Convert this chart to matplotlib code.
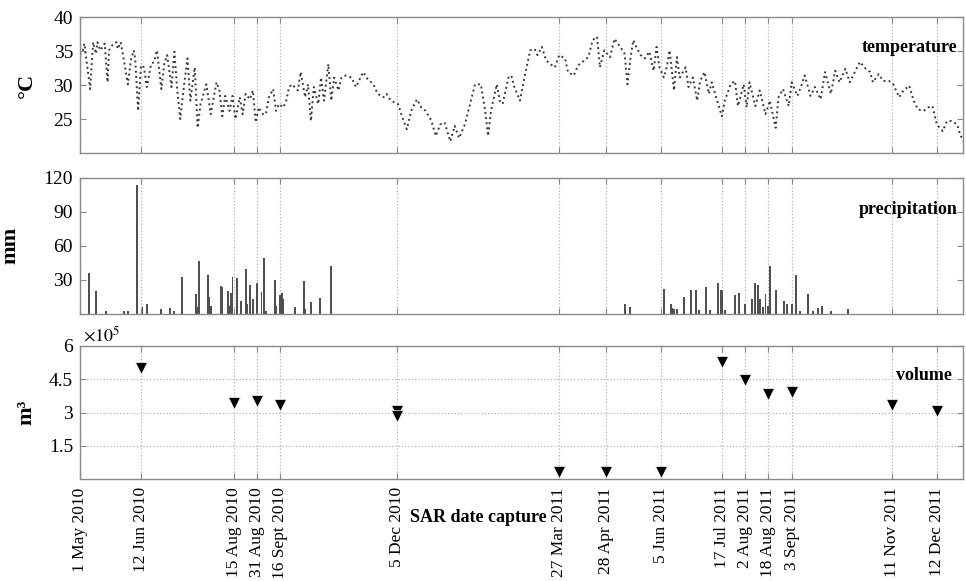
import numpy as np
import matplotlib
matplotlib.use('Agg')
import matplotlib.pyplot as plt
import matplotlib.dates as mdates
from matplotlib.ticker import FuncFormatter

plt.rcParams['font.family'] = ['Liberation Serif', 'DejaVu Serif']
plt.rcParams['mathtext.fontset'] = 'stix'

START = '2010-05-01'
END = '2011-12-30'

sar_ticks = ['2010-05-01', '2010-06-12', '2010-08-15', '2010-08-31', '2010-09-16',
             '2010-12-05', '2011-03-27', '2011-04-28', '2011-06-05', '2011-07-17',
             '2011-08-02', '2011-08-18', '2011-09-03', '2011-11-11', '2011-12-12']
sar_labels = ['1 May 2010', '12 Jun 2010', '15 Aug 2010', '31 Aug 2010', '16 Sept 2010',
              '5 Dec 2010', '27 Mar 2011', '28 Apr 2011', '5 Jun 2011', '17 Jul 2011',
              '2 Aug 2011', '18 Aug 2011', '3 Sept 2011', '11 Nov 2011', '12 Dec 2011']

# temperature: days after 1 May 2010, value in deg C
temp_days = [0, 2, 3, 7, 9, 11, 12, 14, 17, 19, 20, 22, 25, 26, 28, 30, 33, 35, 37, 38,
             40, 42, 44, 46, 49, 51, 53, 56, 58, 60, 63, 65, 67, 69, 72, 74, 76, 79, 81, 83,
             87, 90, 94, 96, 98, 100, 103, 105, 107, 110, 112, 114, 117, 119, 121, 123, 126, 128, 130, 133,
             135, 137, 140, 142, 144, 146, 150, 152, 155, 157, 159, 161, 164, 166, 168, 171,
             173, 175, 178, 180, 183, 187, 190, 195, 198, 202, 205, 209, 211, 214, 219, 222, 225, 228,
             232, 235, 238, 242, 245, 248, 251, 255, 258, 261, 265, 268, 272, 276, 279, 281, 283, 287,
             289, 291, 295, 297, 299, 303, 306, 310, 313, 315, 318, 321, 325, 327, 330, 334, 336, 340,
             343, 346, 350, 353, 356, 358, 361, 365, 368, 372, 375, 377, 379, 381, 383, 386, 389, 392,
             395, 397, 399, 402, 404, 406, 409, 411, 413, 417, 419, 422, 425, 427, 430, 433, 435, 438,
             442, 444, 448, 451, 453, 457, 459, 461, 465, 468, 472, 475, 479, 481, 484, 488, 490, 494,
             497, 499, 503, 506, 510, 513, 517, 520, 523, 527, 530, 534, 537, 541, 544, 546, 550, 553,
             557, 560, 564, 567, 571, 574, 577, 581, 584, 587, 590, 594, 597, 600, 604, 606, 609]
temp_c = [34.4, 35.1, 36.1, 29.4, 36.3, 34.6, 36.3, 35.1, 36.1, 30.4, 35.1, 35.8, 36.3, 35.3, 36.3, 33.9, 30.1, 33.6, 35.1, 33.9,
          26.2, 32.9, 32.6, 29.7, 33.1, 33.4, 35.1, 29.4, 33.1, 34.4, 29.7, 34.9, 29.2, 25.0, 30.6, 33.9, 27.7, 32.6, 23.7, 27.2,
          30.1, 25.7, 30.4, 29.2, 25.4, 28.4, 26.2, 28.4, 25.0, 28.2, 25.7, 28.7, 27.9, 29.2, 24.5, 26.7, 25.7, 25.7, 28.2, 29.4,
          26.2, 27.2, 26.7, 27.7, 29.7, 30.1, 29.2, 31.9, 28.2, 30.1, 24.7, 29.7, 27.2, 31.1, 27.7, 33.1,
          27.7, 31.1, 29.2, 31.1, 31.4, 31.1, 29.7, 31.9, 30.9, 30.1, 28.7, 28.2, 28.7, 27.7, 27.2, 25.2, 23.5, 26.2,
          27.9, 26.7, 26.2, 24.7, 22.5, 24.2, 24.5, 21.7, 24.0, 22.2, 24.2, 26.7, 30.1, 30.1, 26.2, 22.5, 26.2, 30.1,
          27.7, 27.2, 31.1, 31.4, 29.7, 27.7, 31.1, 35.1, 35.3, 34.4, 35.6, 33.6, 32.9, 32.6, 34.4, 33.9, 31.9, 31.4,
          32.9, 33.4, 34.1, 36.6, 37.1, 32.6, 35.1, 34.1, 36.8, 35.6, 34.6, 30.1, 33.9, 36.6, 35.6, 34.4, 33.9, 34.9,
          32.1, 35.6, 32.6, 31.1, 32.6, 35.1, 29.2, 34.1, 31.1, 32.6, 29.7, 31.1, 27.7, 30.6, 31.9, 28.7, 30.4, 28.2,
          25.4, 27.7, 30.1, 30.6, 26.9, 30.1, 26.7, 30.4, 26.9, 29.2, 25.7, 27.7, 23.7, 28.2, 29.4, 26.9, 30.4, 28.4,
          30.1, 31.4, 28.4, 29.7, 27.9, 31.9, 28.7, 32.1, 30.4, 32.4, 30.4, 32.1, 33.4, 32.4, 31.9, 30.4, 31.6, 30.6,
          30.6, 30.1, 28.2, 29.2, 29.9, 27.7, 26.4, 26.2, 26.7, 26.9, 24.2, 23.2, 24.7, 24.7, 24.2, 22.7, 21.5]

precip_dates = ['2010-05-01', '2010-05-07', '2010-05-12', '2010-05-19', '2010-05-31', '2010-06-03',
                '2010-06-09', '2010-06-13', '2010-06-16', '2010-06-26', '2010-07-02', '2010-07-05',
                '2010-07-10', '2010-07-20', '2010-07-21', '2010-07-22', '2010-07-28', '2010-07-29',
                '2010-07-30', '2010-08-06', '2010-08-07', '2010-08-11', '2010-08-12', '2010-08-13',
                '2010-08-14', '2010-08-17', '2010-08-20', '2010-08-23', '2010-08-24', '2010-08-26',
                '2010-08-28', '2010-08-31', '2010-09-03', '2010-09-05', '2010-09-06', '2010-09-12',
                '2010-09-13', '2010-09-16', '2010-09-17', '2010-09-18', '2010-09-26', '2010-10-02',
                '2010-10-03', '2010-10-07', '2010-10-13', '2010-10-21',
                '2011-05-11', '2011-05-15', '2011-06-07', '2011-06-12', '2011-06-13', '2011-06-14',
                '2011-06-16', '2011-06-21', '2011-06-26', '2011-06-29', '2011-07-01', '2011-07-06',
                '2011-07-09', '2011-07-14', '2011-07-16', '2011-07-17', '2011-07-19', '2011-07-26',
                '2011-07-29', '2011-08-02', '2011-08-07', '2011-08-09', '2011-08-11', '2011-08-12',
                '2011-08-14', '2011-08-16', '2011-08-18', '2011-08-19', '2011-08-23', '2011-08-29',
                '2011-08-31', '2011-09-03', '2011-09-06', '2011-09-09', '2011-09-14', '2011-09-18',
                '2011-09-21', '2011-09-24', '2011-09-30', '2011-10-12']
precip_mm = [5, 36, 20, 2, 2, 2,
             113, 6, 8, 4, 5, 2,
             32, 17, 6, 46, 34, 15,
             7, 24, 23, 20, 7, 18,
             32, 31, 11, 39, 8, 25,
             13, 27, 19, 49, 2, 30,
             7, 16, 18, 13, 6, 29,
             4, 10, 14, 42,
             8, 6, 22, 8, 5, 4,
             4, 15, 21, 21, 3, 23,
             3, 27, 21, 21, 3, 16,
             18, 8, 13, 27, 25, 13,
             6, 17, 7, 42, 21, 11,
             8, 8, 34, 2, 17, 2,
             5, 7, 2, 4]

vol_dates = ['2010-06-12', '2010-08-15', '2010-08-31', '2010-09-16', '2010-12-05', '2010-12-05',
             '2011-03-27', '2011-04-28', '2011-06-05', '2011-07-17', '2011-08-02', '2011-08-18',
             '2011-09-03', '2011-11-11', '2011-12-12']
vol_m3 = [5.01e5, 3.42e5, 3.51e5, 3.35e5, 3.07e5, 2.84e5,
          0.33e5, 0.33e5, 0.33e5, 5.28e5, 4.47e5, 3.84e5,
          3.94e5, 3.35e5, 3.05e5]


def dnum(lst):
    return mdates.date2num(np.array(lst, dtype='datetime64[D]'))


x0 = dnum([START])[0]
x1 = dnum([END])[0]
tick_x = dnum(sar_ticks)
temp_x = x0 + np.array(temp_days, dtype=float)
precip_x = dnum(precip_dates)
vol_x = dnum(vol_dates)

fig = plt.figure(figsize=(9.66, 5.81), dpi=100)
W, H = 966.0, 581.0
L, R = 80.0, 963.0


def make_ax(top, bottom):
    return fig.add_axes([L / W, 1 - bottom / H, (R - L) / W, (bottom - top) / H])


ax_t = make_ax(17, 153)
ax_p = make_ax(177.5, 313.5)
ax_v = make_ax(346, 479)

spine_col = '#8a8a8a'
grid_col = '#b5b5b5'
for ax in (ax_t, ax_p, ax_v):
    ax.set_xlim(x0, x1)
    ax.set_xticks(tick_x)
    ax.set_xticklabels(sar_labels)
    for s in ax.spines.values():
        s.set_color(spine_col)
        s.set_linewidth(1.0)
    ax.tick_params(direction='in', top=True, right=True, length=4, width=0.8,
                   color=spine_col, labelsize=14, pad=5)
    ax.grid(axis='x', linestyle=':', color=grid_col, linewidth=0.9)
    ax.set_axisbelow(True)

ax_t.tick_params(labelbottom=False)
ax_p.tick_params(labelbottom=False)
ax_v.tick_params(axis='x', labelsize=12.5, labelrotation=90, pad=6)

# temperature
ax_t.plot(temp_x, temp_c, linestyle=':', color='#3a3a3a', linewidth=1.4)
ax_t.set_ylim(20, 40)
ax_t.set_yticks([25, 30, 35, 40])
ax_t.set_ylabel('°C', fontsize=16, fontweight='bold')
ax_t.yaxis.set_label_coords(-0.049, 0.5)
ax_t.text(0.994, 0.774, 'temperature', transform=ax_t.transAxes, ha='right', va='center',
          fontsize=13, fontweight='bold')

# precipitation
ax_p.bar(precip_x, precip_mm, width=1.3, color='#505050', edgecolor='none')
ax_p.set_ylim(0, 120)
ax_p.set_yticks([30, 60, 90, 120])
ax_p.set_ylabel('mm', fontsize=16, fontweight='bold')
ax_p.yaxis.set_label_coords(-0.068, 0.5)
ax_p.text(0.994, 0.768, 'precipitation', transform=ax_p.transAxes, ha='right', va='center',
          fontsize=13, fontweight='bold')

# volume
ax_v.plot(vol_x, vol_m3, linestyle='none', marker='v', markersize=8.5, color='black',
          markeredgecolor='white', markeredgewidth=0.5)
ax_v.set_ylim(0, 6e5)
ax_v.set_yticks([1.5e5, 3e5, 4.5e5, 6e5])
ax_v.yaxis.set_major_formatter(FuncFormatter(lambda v, p: '%g' % (v / 1e5)))
ax_v.grid(axis='y', linestyle=':', color=grid_col, linewidth=0.9)
ax_v.set_ylabel('m³', fontsize=16, fontweight='bold')
ax_v.yaxis.set_label_coords(-0.049, 0.5)
ax_v.text(0.003, 1.005, r'$\times10^{5}$', transform=ax_v.transAxes, ha='left', va='bottom',
          fontsize=13)
ax_v.text(0.987, 0.777, 'volume', transform=ax_v.transAxes, ha='right', va='center',
          fontsize=13, fontweight='bold')

fig.text(410 / W, 1 - 517 / H, 'SAR date capture', ha='left', va='center',
         fontsize=13, fontweight='bold')

fig.savefig('out.png', dpi=100)
